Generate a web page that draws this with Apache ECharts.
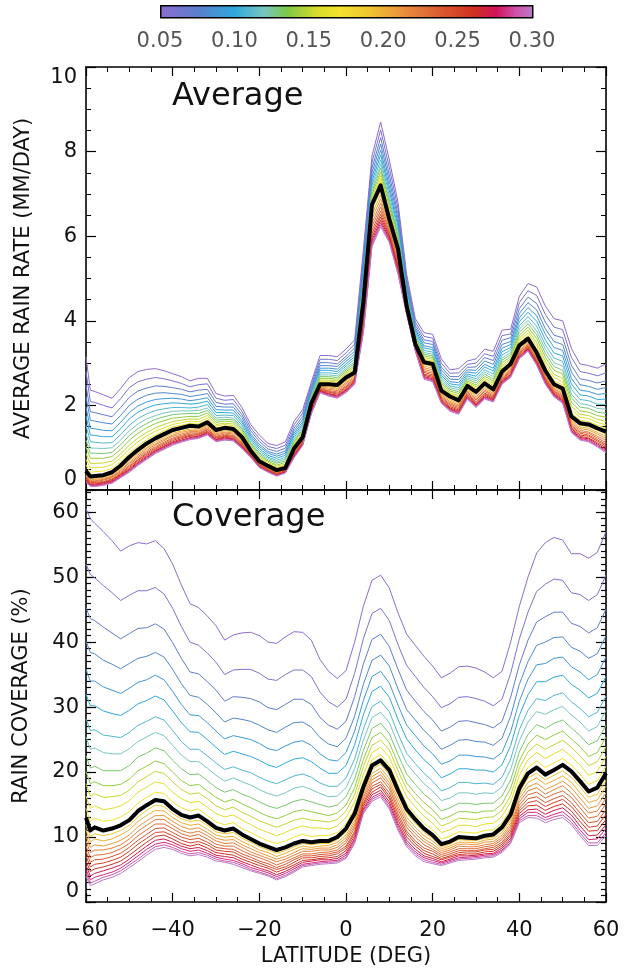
<!DOCTYPE html>
<html>
<head>
<meta charset="utf-8">
<script src="https://cdn.jsdelivr.net/npm/echarts@6/dist/echarts.min.js"></script>
<style>
html,body{margin:0;padding:0;background:#fff;}
#chart{width:628px;height:972px;}
</style>
</head>
<body>
<div id="chart"></div>
<script>
// rain-rate thresholds of the curves; the one drawn in black is 0.18
var thresholds = [0.05,0.06,0.07,0.08,0.09,0.10,0.11,0.12,0.13,0.14,0.15,0.16,0.17,0.18,0.19,0.20,0.21,0.22,0.23,0.24,0.25,0.26,0.27,0.28,0.29,0.30];
var blackIndex = 13;
var colorbarTicks = [0.05,0.10,0.15,0.20,0.25,0.30];

// average rain rate (mm/day): [latitude, value for each threshold]
var avgRows = [
[-60, 3.15,2.80,2.48,2.21,1.96,1.75,1.53,1.34,1.18,1.02,0.86,0.72,0.59,0.45, 0.42,0.39,0.36,0.33,0.31,0.29,0.26,0.24,0.22,0.21,0.19,0.18],
[-59, 2.36,2.09,1.85,1.65,1.46,1.30,1.14,0.99,0.87,0.75,0.63,0.52,0.42,0.32, 0.29,0.27,0.24,0.22,0.20,0.18,0.16,0.14,0.13,0.11,0.10,0.09],
[-58, 2.33,2.07,1.83,1.63,1.45,1.29,1.13,0.99,0.87,0.75,0.63,0.53,0.43,0.33, 0.30,0.27,0.25,0.22,0.20,0.18,0.16,0.14,0.12,0.11,0.09,0.08],
[-56, 2.25,2.00,1.78,1.59,1.41,1.26,1.11,0.98,0.86,0.75,0.64,0.54,0.45,0.35, 0.32,0.30,0.27,0.25,0.23,0.20,0.18,0.17,0.15,0.13,0.12,0.11],
[-54, 2.17,1.94,1.73,1.56,1.40,1.26,1.12,1.00,0.89,0.79,0.68,0.60,0.51,0.42, 0.39,0.36,0.33,0.31,0.29,0.26,0.24,0.22,0.20,0.19,0.17,0.16],
[-52, 2.40,2.16,1.95,1.76,1.60,1.45,1.31,1.18,1.07,0.96,0.85,0.76,0.67,0.58, 0.55,0.51,0.48,0.46,0.43,0.40,0.38,0.36,0.34,0.32,0.30,0.29],
[-50, 2.66,2.42,2.19,2.00,1.83,1.68,1.53,1.40,1.29,1.18,1.06,0.97,0.87,0.78, 0.74,0.70,0.66,0.63,0.59,0.56,0.53,0.50,0.48,0.46,0.44,0.42],
[-48, 2.80,2.56,2.34,2.15,1.99,1.84,1.69,1.56,1.45,1.34,1.23,1.14,1.04,0.95, 0.91,0.87,0.83,0.79,0.76,0.72,0.70,0.67,0.64,0.62,0.60,0.58],
[-46, 2.85,2.62,2.41,2.24,2.08,1.94,1.80,1.68,1.57,1.47,1.36,1.28,1.19,1.10, 1.05,1.01,0.98,0.94,0.90,0.87,0.84,0.81,0.78,0.76,0.74,0.72],
[-44, 2.87,2.66,2.46,2.29,2.14,2.01,1.88,1.76,1.67,1.57,1.47,1.39,1.30,1.22, 1.18,1.14,1.10,1.07,1.03,1.00,0.97,0.94,0.92,0.90,0.88,0.86],
[-42, 2.82,2.63,2.45,2.30,2.16,2.04,1.92,1.82,1.73,1.64,1.55,1.47,1.40,1.32, 1.28,1.24,1.20,1.17,1.13,1.10,1.07,1.04,1.02,1.00,0.98,0.96],
[-40, 2.75,2.58,2.42,2.28,2.17,2.06,1.95,1.86,1.78,1.70,1.62,1.55,1.49,1.42, 1.38,1.34,1.30,1.27,1.23,1.20,1.17,1.14,1.12,1.10,1.08,1.06],
[-38, 2.68,2.52,2.38,2.26,2.15,2.05,1.95,1.87,1.80,1.72,1.65,1.59,1.53,1.47, 1.43,1.39,1.36,1.32,1.29,1.26,1.24,1.21,1.18,1.16,1.15,1.13],
[-36, 2.58,2.44,2.32,2.21,2.11,2.03,1.94,1.87,1.81,1.74,1.68,1.63,1.57,1.52, 1.48,1.44,1.41,1.38,1.35,1.32,1.29,1.27,1.24,1.22,1.21,1.19],
[-34, 2.64,2.49,2.36,2.24,2.14,2.05,1.96,1.88,1.81,1.74,1.67,1.61,1.56,1.50, 1.47,1.44,1.41,1.38,1.35,1.33,1.31,1.28,1.27,1.25,1.23,1.22],
[-32, 2.64,2.51,2.38,2.28,2.18,2.10,2.02,1.94,1.88,1.82,1.76,1.70,1.65,1.60, 1.56,1.53,1.50,1.47,1.44,1.42,1.39,1.37,1.35,1.33,1.32,1.30],
[-30, 2.28,2.17,2.07,1.98,1.90,1.83,1.76,1.70,1.65,1.60,1.55,1.51,1.46,1.42, 1.39,1.36,1.33,1.30,1.27,1.25,1.23,1.20,1.19,1.17,1.15,1.14],
[-28, 2.22,2.12,2.03,1.96,1.89,1.83,1.77,1.72,1.67,1.63,1.58,1.55,1.51,1.47, 1.44,1.40,1.37,1.35,1.32,1.29,1.27,1.25,1.23,1.21,1.19,1.18],
[-26, 2.24,2.14,2.04,1.96,1.89,1.82,1.76,1.70,1.66,1.61,1.56,1.52,1.48,1.44, 1.41,1.38,1.35,1.32,1.29,1.27,1.25,1.22,1.21,1.19,1.17,1.16],
[-24, 1.95,1.86,1.78,1.71,1.64,1.59,1.53,1.48,1.44,1.40,1.36,1.32,1.29,1.25, 1.22,1.19,1.16,1.13,1.11,1.09,1.06,1.04,1.02,1.01,0.99,0.98],
[-22, 1.55,1.47,1.40,1.33,1.28,1.23,1.18,1.13,1.10,1.06,1.02,0.99,0.96,0.93, 0.91,0.89,0.88,0.86,0.85,0.83,0.82,0.81,0.80,0.79,0.78,0.77],
[-20, 1.30,1.22,1.15,1.08,1.03,0.98,0.93,0.88,0.85,0.81,0.77,0.74,0.71,0.68, 0.66,0.65,0.63,0.62,0.60,0.59,0.58,0.56,0.55,0.55,0.54,0.53],
[-18, 1.10,1.03,0.97,0.91,0.87,0.82,0.78,0.75,0.71,0.68,0.65,0.62,0.60,0.57, 0.55,0.54,0.52,0.51,0.49,0.48,0.47,0.45,0.44,0.44,0.43,0.42],
[-16, 1.05,0.98,0.91,0.85,0.80,0.75,0.70,0.66,0.63,0.59,0.56,0.53,0.50,0.47, 0.45,0.44,0.42,0.41,0.40,0.39,0.37,0.36,0.35,0.34,0.34,0.33],
[-14, 1.14,1.06,0.99,0.92,0.87,0.82,0.77,0.73,0.69,0.65,0.61,0.58,0.55,0.52, 0.51,0.49,0.48,0.47,0.46,0.45,0.44,0.43,0.42,0.41,0.41,0.40],
[-12, 1.62,1.54,1.46,1.40,1.34,1.29,1.24,1.19,1.15,1.11,1.08,1.04,1.01,0.98, 0.95,0.93,0.91,0.89,0.87,0.85,0.83,0.81,0.80,0.78,0.77,0.76],
[-10, 1.90,1.82,1.74,1.67,1.61,1.56,1.51,1.46,1.43,1.39,1.35,1.32,1.28,1.25, 1.23,1.20,1.18,1.16,1.15,1.13,1.11,1.10,1.08,1.07,1.06,1.05],
[-8, 2.55,2.49,2.43,2.38,2.33,2.29,2.25,2.22,2.19,2.16,2.13,2.10,2.08,2.05, 2.02,1.99,1.97,1.94,1.92,1.90,1.88,1.86,1.84,1.83,1.81,1.80],
[-6, 3.18,3.09,3.01,2.94,2.88,2.83,2.77,2.72,2.68,2.64,2.60,2.57,2.53,2.50, 2.48,2.45,2.43,2.41,2.40,2.38,2.36,2.35,2.33,2.32,2.31,2.30],
[-4, 3.18,3.09,3.01,2.94,2.88,2.83,2.77,2.72,2.68,2.64,2.60,2.57,2.53,2.50, 2.47,2.44,2.41,2.38,2.35,2.33,2.31,2.28,2.27,2.25,2.23,2.22],
[-2, 3.15,3.06,2.98,2.92,2.86,2.80,2.75,2.70,2.66,2.62,2.58,2.55,2.51,2.48, 2.44,2.41,2.38,2.35,2.32,2.29,2.27,2.24,2.22,2.20,2.19,2.17],
[0, 3.33,3.24,3.16,3.10,3.04,2.98,2.93,2.88,2.84,2.80,2.76,2.73,2.69,2.66, 2.62,2.58,2.54,2.51,2.47,2.44,2.41,2.38,2.36,2.34,2.32,2.30],
[2, 3.55,3.45,3.36,3.28,3.21,3.15,3.09,3.03,2.99,2.94,2.90,2.86,2.82,2.78, 2.75,2.72,2.69,2.66,2.63,2.61,2.59,2.56,2.55,2.53,2.51,2.50],
[4, 5.67,5.51,5.37,5.24,5.13,5.04,4.94,4.85,4.78,4.71,4.63,4.57,4.51,4.45, 4.36,4.28,4.20,4.13,4.06,3.99,3.93,3.87,3.82,3.78,3.74,3.70],
[6, 7.90,7.75,7.61,7.50,7.39,7.30,7.21,7.13,7.06,6.99,6.92,6.87,6.81,6.75, 6.63,6.52,6.42,6.32,6.23,6.14,6.06,5.98,5.91,5.85,5.80,5.75],
[8, 8.70,8.51,8.33,8.18,8.04,7.92,7.80,7.70,7.61,7.52,7.43,7.35,7.28,7.20, 7.08,6.98,6.88,6.78,6.69,6.60,6.52,6.45,6.38,6.32,6.27,6.22],
[10, 7.80,7.62,7.45,7.31,7.18,7.07,6.96,6.86,6.78,6.69,6.61,6.54,6.47,6.40, 6.33,6.27,6.22,6.16,6.11,6.06,6.02,5.98,5.94,5.91,5.88,5.85],
[12, 6.80,6.66,6.53,6.42,6.32,6.23,6.14,6.06,6.00,5.93,5.87,5.81,5.76,5.70, 5.63,5.56,5.50,5.44,5.39,5.33,5.29,5.24,5.20,5.16,5.13,5.10],
[14, 5.10,5.00,4.91,4.84,4.77,4.71,4.65,4.60,4.55,4.51,4.46,4.43,4.39,4.35, 4.33,4.30,4.28,4.26,4.25,4.23,4.21,4.20,4.18,4.17,4.16,4.15],
[16, 4.05,3.97,3.90,3.84,3.79,3.74,3.69,3.65,3.61,3.58,3.54,3.51,3.48,3.45, 3.43,3.41,3.39,3.38,3.36,3.35,3.33,3.32,3.31,3.30,3.29,3.28],
[18, 3.72,3.63,3.55,3.48,3.41,3.36,3.30,3.25,3.21,3.17,3.13,3.09,3.06,3.02, 2.97,2.93,2.89,2.85,2.81,2.78,2.74,2.71,2.68,2.66,2.64,2.62],
[20, 3.68,3.59,3.51,3.44,3.37,3.32,3.26,3.21,3.17,3.13,3.09,3.05,3.02,2.98, 2.93,2.88,2.84,2.80,2.76,2.72,2.69,2.66,2.63,2.60,2.58,2.56],
[22, 3.10,3.00,2.91,2.84,2.77,2.71,2.65,2.60,2.55,2.51,2.46,2.43,2.39,2.35, 2.31,2.28,2.25,2.22,2.19,2.17,2.14,2.12,2.10,2.08,2.07,2.05],
[24, 2.84,2.76,2.68,2.62,2.56,2.51,2.46,2.42,2.38,2.34,2.30,2.27,2.24,2.21, 2.17,2.13,2.09,2.06,2.03,2.00,1.97,1.94,1.92,1.90,1.88,1.86],
[26, 2.87,2.77,2.68,2.61,2.54,2.48,2.42,2.37,2.32,2.28,2.23,2.20,2.16,2.12, 2.08,2.04,2.01,1.98,1.95,1.92,1.89,1.87,1.84,1.82,1.81,1.79],
[28, 3.05,2.97,2.90,2.84,2.79,2.74,2.70,2.66,2.62,2.58,2.55,2.52,2.49,2.46, 2.42,2.39,2.36,2.33,2.30,2.27,2.25,2.22,2.20,2.18,2.17,2.15],
[30, 3.10,3.00,2.91,2.83,2.76,2.69,2.63,2.58,2.53,2.48,2.44,2.40,2.36,2.32, 2.28,2.24,2.20,2.16,2.13,2.09,2.07,2.04,2.01,1.99,1.97,1.95],
[32, 3.33,3.22,3.13,3.05,2.97,2.91,2.84,2.79,2.74,2.69,2.64,2.60,2.56,2.52, 2.48,2.44,2.40,2.36,2.33,2.29,2.27,2.24,2.21,2.19,2.17,2.15],
[34, 3.28,3.16,3.06,2.97,2.88,2.81,2.74,2.68,2.62,2.57,2.52,2.47,2.43,2.38, 2.34,2.31,2.28,2.25,2.22,2.20,2.17,2.15,2.13,2.11,2.10,2.08],
[36, 3.78,3.65,3.54,3.44,3.35,3.27,3.19,3.12,3.07,3.01,2.95,2.90,2.85,2.80, 2.76,2.73,2.70,2.67,2.64,2.62,2.59,2.57,2.55,2.53,2.52,2.50],
[38, 3.80,3.69,3.60,3.51,3.44,3.37,3.31,3.25,3.20,3.15,3.10,3.06,3.02,2.98, 2.94,2.91,2.87,2.84,2.81,2.79,2.76,2.73,2.71,2.69,2.68,2.66],
[40, 4.58,4.43,4.29,4.17,4.07,3.98,3.88,3.80,3.73,3.66,3.59,3.54,3.48,3.42, 3.38,3.35,3.31,3.28,3.25,3.23,3.20,3.17,3.15,3.13,3.12,3.10],
[42, 4.88,4.71,4.56,4.43,4.31,4.20,4.10,4.01,3.93,3.85,3.78,3.71,3.65,3.58, 3.54,3.51,3.48,3.45,3.42,3.40,3.37,3.35,3.33,3.31,3.30,3.28],
[44, 4.80,4.60,4.41,4.26,4.12,3.99,3.87,3.76,3.67,3.58,3.48,3.41,3.33,3.25, 3.21,3.18,3.15,3.12,3.09,3.07,3.04,3.02,3.00,2.98,2.97,2.95],
[46, 4.35,4.15,3.97,3.81,3.68,3.55,3.43,3.33,3.23,3.14,3.05,2.97,2.90,2.82, 2.78,2.75,2.71,2.68,2.65,2.63,2.60,2.57,2.55,2.53,2.52,2.50],
[48, 4.05,3.85,3.66,3.51,3.37,3.24,3.12,3.01,2.92,2.83,2.73,2.66,2.58,2.50, 2.46,2.43,2.40,2.37,2.34,2.32,2.29,2.27,2.25,2.23,2.22,2.20],
[50, 4.00,3.79,3.60,3.44,3.30,3.17,3.04,2.93,2.83,2.74,2.64,2.56,2.48,2.40, 2.36,2.32,2.28,2.25,2.22,2.19,2.16,2.13,2.11,2.09,2.07,2.05],
[52, 3.35,3.14,2.95,2.79,2.64,2.51,2.38,2.27,2.18,2.08,1.98,1.90,1.82,1.74, 1.69,1.65,1.62,1.58,1.54,1.51,1.48,1.45,1.42,1.40,1.38,1.36],
[54, 2.98,2.80,2.63,2.49,2.36,2.25,2.14,2.04,1.96,1.87,1.79,1.72,1.65,1.58, 1.53,1.49,1.45,1.41,1.37,1.34,1.30,1.27,1.24,1.22,1.20,1.18],
[56, 2.94,2.76,2.59,2.45,2.33,2.22,2.11,2.01,1.93,1.84,1.76,1.69,1.62,1.55, 1.50,1.46,1.42,1.37,1.34,1.30,1.27,1.23,1.21,1.18,1.16,1.14],
[58, 2.88,2.70,2.53,2.38,2.26,2.14,2.03,1.93,1.84,1.76,1.67,1.60,1.53,1.46, 1.41,1.36,1.32,1.27,1.23,1.19,1.16,1.12,1.09,1.06,1.04,1.02],
[60, 2.98,2.77,2.58,2.42,2.28,2.15,2.02,1.91,1.81,1.72,1.62,1.54,1.46,1.38, 1.32,1.27,1.22,1.17,1.12,1.08,1.04,1.00,0.96,0.93,0.91,0.88]
];

// rain coverage (%): [latitude, value for each threshold]
var covRows = [
[-60, 60.5,52.0,45.3,40.1,35.8,32.0,28.2,25.4,22.5,20.1,18.2,16.3,14.4,13.0, 12.0,11.1,10.2,9.4,8.6,7.8,7.1,6.3,5.6,5.0,4.5,4.0],
[-59, 59.0,50.4,43.6,38.4,34.0,30.2,26.4,23.5,20.6,18.2,16.3,14.4,12.4,11.0, 10.1,9.2,8.4,7.6,6.8,6.1,5.4,4.7,4.0,3.4,2.9,2.5],
[-58, 58.3,49.9,43.3,38.2,34.0,30.2,26.5,23.7,20.9,18.5,16.7,14.8,12.9,11.5, 10.5,9.7,8.8,8.0,7.2,6.5,5.8,5.1,4.4,3.8,3.2,2.8],
[-56, 57.0,48.7,42.3,37.2,33.1,29.4,25.7,23.0,20.2,17.9,16.1,14.2,12.4,11.0, 10.2,9.4,8.6,8.0,7.3,6.6,6.0,5.4,4.8,4.2,3.8,3.4],
[-54, 55.6,47.6,41.4,36.6,32.6,29.0,25.5,22.8,20.2,17.9,16.2,14.4,12.6,11.3, 10.5,9.7,9.0,8.3,7.6,7.0,6.4,5.8,5.2,4.6,4.2,3.8],
[-52, 54.0,46.4,40.5,35.9,32.1,28.7,25.3,22.8,20.2,18.1,16.4,14.8,13.1,11.8, 11.0,10.3,9.5,8.8,8.2,7.5,6.9,6.3,5.7,5.2,4.8,4.4],
[-50, 54.8,47.2,41.3,36.7,32.9,29.5,26.1,23.6,21.0,18.9,17.2,15.6,13.9,12.6, 11.8,11.1,10.3,9.7,9.0,8.4,7.8,7.2,6.6,6.1,5.7,5.3],
[-48, 55.3,47.9,42.1,37.5,33.8,30.5,27.2,24.7,22.3,20.2,18.5,16.9,15.2,14.0, 13.1,12.4,11.6,10.9,10.2,9.5,8.9,8.2,7.6,7.1,6.6,6.2],
[-46, 55.1,47.9,42.2,37.8,34.2,31.0,27.8,25.4,22.9,20.9,19.3,17.7,16.1,14.9, 14.1,13.3,12.5,11.8,11.1,10.4,9.8,9.2,8.6,8.1,7.6,7.2],
[-44, 55.6,48.4,42.8,38.4,34.9,31.7,28.5,26.1,23.7,21.7,20.1,18.5,16.9,15.7, 14.9,14.1,13.3,12.7,12.0,11.3,10.7,10.1,9.5,8.9,8.5,8.1],
[-42, 54.4,47.4,42.0,37.7,34.2,31.1,28.0,25.6,23.3,21.3,19.8,18.2,16.7,15.5, 14.7,14.0,13.3,12.7,12.0,11.4,10.8,10.3,9.7,9.2,8.8,8.4],
[-40, 52.0,45.2,39.9,35.8,32.4,29.4,26.4,24.1,21.8,20.0,18.5,16.9,15.4,14.3, 13.6,13.0,12.4,11.8,11.3,10.7,10.2,9.7,9.2,8.8,8.4,8.1],
[-38, 48.8,42.4,37.5,33.6,30.4,27.6,24.7,22.6,20.5,18.7,17.3,15.9,14.5,13.4, 12.8,12.2,11.6,11.0,10.5,10.0,9.5,9.0,8.6,8.2,7.8,7.5],
[-36, 45.9,40.0,35.4,31.8,28.8,26.2,23.5,21.6,19.6,17.9,16.6,15.3,14.0,13.0, 12.4,11.8,11.2,10.6,10.1,9.6,9.1,8.6,8.2,7.8,7.4,7.1],
[-34, 45.3,39.5,35.1,31.5,28.7,26.1,23.5,21.6,19.7,18.1,16.8,15.5,14.3,13.3, 12.6,12.0,11.4,10.9,10.4,9.8,9.3,8.9,8.4,8.0,7.6,7.3],
[-32, 44.0,38.3,33.9,30.4,27.6,25.0,22.5,20.6,18.7,17.1,15.9,14.6,13.3,12.4, 11.8,11.2,10.7,10.2,9.7,9.2,8.8,8.3,7.9,7.5,7.2,6.9],
[-30, 42.5,36.9,32.6,29.1,26.3,23.8,21.4,19.5,17.6,16.1,14.8,13.6,12.3,11.4, 10.8,10.3,9.8,9.4,8.9,8.4,8.0,7.6,7.2,6.9,6.6,6.3],
[-28, 40.3,35.0,30.9,27.7,25.1,22.7,20.4,18.6,16.9,15.4,14.2,13.1,11.9,11.0, 10.5,10.0,9.5,9.0,8.6,8.2,7.8,7.4,7.0,6.6,6.3,6.1],
[-26, 41.1,35.7,31.6,28.3,25.6,23.2,20.8,19.1,17.3,15.8,14.6,13.4,12.2,11.3, 10.7,10.1,9.6,9.1,8.6,8.1,7.7,7.2,6.8,6.4,6.1,5.8],
[-24, 41.4,35.8,31.5,28.1,25.3,22.8,20.3,18.5,16.6,15.1,13.8,12.6,11.3,10.4, 9.8,9.3,8.8,8.4,7.9,7.4,7.0,6.6,6.2,5.9,5.6,5.3],
[-22, 41.5,35.8,31.3,27.8,25.0,22.4,19.9,18.0,16.1,14.5,13.2,11.9,10.7,9.7, 9.2,8.7,8.2,7.7,7.3,6.9,6.5,6.1,5.7,5.3,5.0,4.8],
[-20, 41.0,35.2,30.8,27.2,24.4,21.8,19.2,17.3,15.4,13.8,12.5,11.2,10.0,9.0, 8.5,8.0,7.6,7.2,6.8,6.3,6.0,5.6,5.2,4.9,4.6,4.4],
[-18, 40.0,34.3,29.9,26.5,23.6,21.1,18.6,16.7,14.8,13.2,12.0,10.7,9.4,8.5, 8.0,7.6,7.1,6.7,6.3,5.9,5.5,5.2,4.8,4.5,4.2,4.0],
[-16, 39.8,34.1,29.6,26.1,23.3,20.7,18.2,16.3,14.4,12.8,11.5,10.2,9.0,8.0, 7.5,7.0,6.6,6.2,5.7,5.3,5.0,4.6,4.2,3.9,3.6,3.4],
[-14, 40.8,35.0,30.4,26.9,24.0,21.4,18.8,16.8,14.9,13.3,12.0,10.7,9.4,8.4, 7.9,7.5,7.0,6.6,6.2,5.8,5.4,5.1,4.7,4.4,4.1,3.9],
[-12, 41.6,35.7,31.2,27.6,24.6,22.0,19.4,17.5,15.5,13.9,12.6,11.3,10.0,9.0, 8.5,8.1,7.6,7.2,6.8,6.5,6.1,5.7,5.4,5.1,4.8,4.6],
[-10, 41.5,35.7,31.2,27.7,24.8,22.2,19.7,17.8,15.8,14.2,12.9,11.7,10.4,9.4, 9.0,8.6,8.2,7.8,7.4,7.1,6.8,6.4,6.1,5.8,5.6,5.4],
[-8, 40.3,34.7,30.4,26.9,24.1,21.6,19.2,17.3,15.4,13.9,12.6,11.4,10.1,9.2, 8.8,8.4,8.1,7.8,7.4,7.1,6.8,6.5,6.3,6.0,5.8,5.6],
[-6, 37.3,32.3,28.4,25.3,22.8,20.6,18.3,16.7,15.0,13.6,12.5,11.4,10.2,9.4, 9.0,8.6,8.3,8.0,7.6,7.3,7.0,6.7,6.5,6.2,6.0,5.8],
[-4, 35.5,30.8,27.2,24.3,21.9,19.8,17.8,16.2,14.6,13.3,12.3,11.2,10.2,9.4, 9.0,8.7,8.3,8.0,7.7,7.4,7.1,6.8,6.5,6.3,6.1,5.9],
[-2, 34.4,30.0,26.6,23.9,21.7,19.8,17.8,16.3,14.9,13.7,12.7,11.7,10.7,10.0, 9.6,9.2,8.8,8.4,8.0,7.7,7.4,7.0,6.7,6.4,6.2,6.0],
[0, 35.6,31.2,27.8,25.2,23.0,21.0,19.1,17.6,16.2,14.9,14.0,13.0,12.0,11.3, 10.8,10.3,9.9,9.5,9.1,8.6,8.3,7.9,7.5,7.2,6.9,6.7],
[2, 40.0,35.2,31.6,28.6,26.3,24.2,22.0,20.5,18.9,17.6,16.5,15.4,14.4,13.6, 13.1,12.6,12.2,11.8,11.4,10.9,10.6,10.2,9.8,9.5,9.2,9.0],
[4, 45.5,40.5,36.6,33.5,31.0,28.8,26.6,24.9,23.3,21.9,20.8,19.6,18.5,17.7, 17.3,16.8,16.4,16.1,15.7,15.3,15.0,14.7,14.3,14.1,13.8,13.6],
[6, 49.5,44.4,40.4,37.2,34.7,32.4,30.1,28.4,26.7,25.3,24.1,23.0,21.9,21.0, 20.4,19.8,19.3,18.8,18.3,17.8,17.4,16.9,16.5,16.1,15.8,15.5],
[8, 50.3,45.2,41.2,38.0,35.5,33.2,30.9,29.2,27.5,26.1,24.9,23.8,22.7,21.8, 21.2,20.6,20.1,19.6,19.1,18.5,18.1,17.7,17.2,16.8,16.5,16.2],
[10, 48.3,43.3,39.3,36.3,33.7,31.5,29.3,27.6,25.9,24.5,23.4,22.3,21.1,20.3, 19.6,19.0,18.4,17.9,17.4,16.8,16.3,15.9,15.4,15.0,14.6,14.3],
[12, 44.5,39.6,35.8,32.8,30.3,28.1,25.9,24.3,22.7,21.3,20.2,19.1,18.0,17.2, 16.5,15.9,15.3,14.7,14.2,13.6,13.1,12.6,12.1,11.7,11.3,11.0],
[14, 41.2,36.4,32.6,29.6,27.2,25.1,22.9,21.3,19.7,18.3,17.3,16.2,15.1,14.3, 13.7,13.1,12.5,12.0,11.5,10.9,10.5,10.0,9.5,9.1,8.8,8.5],
[16, 39.5,34.7,30.9,28.0,25.6,23.4,21.3,19.7,18.1,16.7,15.7,14.6,13.5,12.7, 12.1,11.5,11.0,10.5,10.0,9.4,9.0,8.6,8.1,7.7,7.4,7.1],
[18, 37.8,33.0,29.3,26.4,24.0,21.9,19.8,18.2,16.6,15.3,14.2,13.2,12.1,11.3, 10.7,10.2,9.7,9.3,8.8,8.3,7.9,7.5,7.1,6.8,6.5,6.2],
[20, 36.3,31.6,28.0,25.1,22.8,20.7,18.6,17.1,15.5,14.2,13.2,12.1,11.1,10.3, 9.8,9.4,8.9,8.5,8.1,7.8,7.4,7.0,6.7,6.4,6.1,5.9],
[22, 34.5,29.9,26.3,23.5,21.2,19.1,17.1,15.6,14.0,12.7,11.7,10.7,9.7,8.9, 8.5,8.2,7.9,7.6,7.3,7.0,6.7,6.5,6.2,6.0,5.8,5.6],
[24, 35.2,30.5,26.9,24.1,21.7,19.7,17.6,16.0,14.5,13.2,12.2,11.1,10.1,9.3, 8.9,8.6,8.3,8.0,7.7,7.4,7.1,6.9,6.6,6.4,6.2,6.0],
[26, 36.2,31.5,27.8,24.9,22.6,20.5,18.4,16.8,15.2,13.9,12.9,11.8,10.8,10.0, 9.6,9.2,8.9,8.6,8.2,7.9,7.6,7.3,7.1,6.8,6.6,6.4],
[28, 36.3,31.6,27.9,25.0,22.6,20.5,18.4,16.8,15.2,13.9,12.8,11.8,10.7,9.9, 9.5,9.2,8.9,8.5,8.2,7.9,7.7,7.4,7.1,6.9,6.7,6.5],
[30, 36.0,31.3,27.6,24.7,22.4,20.3,18.2,16.6,15.0,13.7,12.7,11.6,10.6,9.8, 9.5,9.1,8.8,8.5,8.2,7.9,7.7,7.4,7.2,7.0,6.8,6.6],
[32, 35.4,30.9,27.3,24.6,22.3,20.3,18.3,16.8,15.2,14.0,13.0,12.0,11.0,10.2, 9.8,9.5,9.2,8.8,8.5,8.2,8.0,7.7,7.4,7.2,7.0,6.8],
[34, 34.5,30.2,26.8,24.1,22.0,20.0,18.1,16.7,15.2,14.0,13.1,12.1,11.1,10.4, 10.0,9.7,9.3,9.0,8.7,8.4,8.1,7.8,7.5,7.3,7.1,6.9],
[36, 35.5,31.2,27.8,25.2,23.0,21.1,19.2,17.7,16.3,15.1,14.1,13.2,12.2,11.5, 11.1,10.7,10.3,9.9,9.6,9.2,8.9,8.6,8.3,8.0,7.8,7.6],
[38, 40.0,35.2,31.5,28.6,26.2,24.1,22.0,20.4,18.8,17.5,16.4,15.4,14.3,13.5, 13.0,12.6,12.1,11.7,11.3,10.9,10.5,10.2,9.8,9.5,9.2,9.0],
[40, 45.5,40.5,36.5,33.5,30.9,28.7,26.5,24.8,23.1,21.7,20.6,19.5,18.3,17.5, 16.9,16.4,15.9,15.4,14.9,14.4,14.0,13.6,13.2,12.8,12.5,12.2],
[42, 50.0,44.6,40.3,37.0,34.3,31.9,29.5,27.7,25.8,24.3,23.1,21.9,20.7,19.8, 19.1,18.4,17.7,17.1,16.5,15.9,15.3,14.8,14.2,13.8,13.3,13.0],
[44, 53.7,47.8,43.1,39.5,36.5,33.9,31.3,29.3,27.3,25.7,24.3,23.0,21.7,20.7, 19.8,19.1,18.3,17.6,16.9,16.2,15.6,14.9,14.3,13.8,13.3,12.9],
[46, 55.3,48.9,43.9,40.0,36.7,33.9,31.0,28.9,26.7,25.0,23.5,22.1,20.7,19.6, 18.8,18.1,17.3,16.6,16.0,15.3,14.7,14.1,13.5,13.0,12.6,12.2],
[48, 56.1,49.7,44.6,40.7,37.5,34.6,31.8,29.6,27.5,25.7,24.2,22.8,21.4,20.3, 19.5,18.7,17.9,17.3,16.6,15.9,15.3,14.7,14.1,13.5,13.1,12.7],
[50, 55.7,49.5,44.6,40.8,37.7,34.9,32.2,30.1,28.0,26.3,24.9,23.5,22.1,21.1, 20.2,19.4,18.6,17.9,17.1,16.4,15.8,15.1,14.5,13.9,13.4,13.0],
[52, 53.6,47.6,42.9,39.2,36.2,33.5,30.8,28.8,26.8,25.1,23.8,22.4,21.1,20.1, 19.2,18.4,17.6,16.8,16.1,15.3,14.7,14.0,13.4,12.8,12.3,11.9],
[54, 53.6,47.3,42.4,38.6,35.4,32.6,29.8,27.7,25.6,23.9,22.5,21.1,19.7,18.6, 17.7,16.8,16.0,15.2,14.5,13.7,13.1,12.4,11.7,11.1,10.6,10.2],
[56, 52.9,46.4,41.4,37.5,34.2,31.4,28.5,26.3,24.2,22.4,21.0,19.5,18.1,17.0, 16.1,15.3,14.4,13.7,12.9,12.2,11.5,10.9,10.2,9.6,9.1,8.7],
[58, 53.8,47.3,42.2,38.2,35.0,32.1,29.2,27.0,24.8,23.0,21.6,20.1,18.7,17.6, 16.6,15.7,14.8,14.0,13.2,12.4,11.7,11.0,10.3,9.7,9.1,8.7],
[60, 57.0,50.3,45.1,41.0,37.7,34.7,31.7,29.5,27.2,25.4,23.9,22.4,20.9,19.8, 18.7,17.8,16.8,16.0,15.1,14.2,13.5,12.7,11.9,11.3,10.7,10.2]
];

// colour table of the threshold colour bar (fraction along the bar, colour)
var cmapStops = [[0,'#8e6ccf'],[0.10,'#5a7fcc'],[0.20,'#2fa8dc'],[0.28,'#78c6c0'],[0.34,'#7cc846'],[0.42,'#d8dc2c'],[0.48,'#f3e22c'],[0.56,'#f0c530'],[0.66,'#e88a3c'],[0.76,'#d85530'],[0.84,'#cf3120'],[0.90,'#d0125a'],[0.95,'#cf4ea6'],[1,'#b97bc9']];

var FONT = 'DejaVu Sans';

function hexRgb(h){ return [parseInt(h.substr(1,2),16),parseInt(h.substr(3,2),16),parseInt(h.substr(5,2),16)]; }
function lineColor(t){
	var f = (t-0.05)/0.25;
	for (var i=1;i<cmapStops.length;i++){
		if (f <= cmapStops[i][0]+1e-9){
			var a=cmapStops[i-1], b=cmapStops[i];
			var u=(f-a[0])/(b[0]-a[0]), ca=hexRgb(a[1]), cb=hexRgb(b[1]);
			return 'rgb('+Math.round(ca[0]+(cb[0]-ca[0])*u)+','+Math.round(ca[1]+(cb[1]-ca[1])*u)+','+Math.round(ca[2]+(cb[2]-ca[2])*u)+')';
		}
	}
	return cmapStops[cmapStops.length-1][1];
}

function buildSeries(rows, xi, yi){
	var out = [], blk = null;
	thresholds.forEach(function(t,k){
		var s = {
			type:'line', xAxisIndex:xi, yAxisIndex:yi, symbol:'none', silent:true, animation:false,
			data: rows.map(function(r){ return [r[0], r[k+1]]; }),
			lineStyle:{width:1, color:lineColor(t)}, z:2
		};
		if (k === blackIndex){ s.lineStyle = {width:4, color:'#000', join:'round'}; s.z = 5; blk = s; }
		else out.push(s);
	});
	out.push(blk);
	return out;
}

// axis pieces
function tick(len){ return {show:true, inside:true, length:len, lineStyle:{color:'#000', width:1.2}}; }
function minor(n){ return {show:true, splitNumber:n, length:5, lineStyle:{color:'#000', width:1}}; }
var line = {show:true, onZero:false, lineStyle:{color:'#000', width:1.6}};
var noLine = {show:false, onZero:false};
var noLabel = {show:false};
var noSplit = {show:false};
function latLabel(v){ return v<0 ? '\u2212'+(-v) : String(v); }

function latAxis(grid, pos, withLabels){
	var a = {type:'value', gridIndex:grid, position:pos, min:-60, max:60, interval:20,
		axisLine:line, axisTick:tick(9), minorTick:minor(4), splitLine:noSplit, axisLabel:noLabel};
	if (withLabels){
		a.axisLabel = {show:true, margin:18, fontFamily:FONT, fontSize:21, color:'#111', formatter:latLabel};
		a.name = 'LATITUDE (DEG)'; a.nameLocation = 'middle'; a.nameGap = 44;
		a.nameTextStyle = {fontFamily:FONT, fontSize:21, color:'#111'};
	}
	return a;
}

var chart = echarts.init(document.getElementById('chart'), null, {renderer:'canvas'});
var series = buildSeries(avgRows, 0, 0).concat(buildSeries(covRows, 2, 2));

var covMax = 63.4;
var option = {
	animation:false,
	backgroundColor:'#fff',
	textStyle:{fontFamily:FONT},
	grid:[
		{left:86, top:67, width:520, height:423, outerBoundsMode:'none'},
		{left:86, top:490, width:520, height:412, outerBoundsMode:'none'},
		{left:160, top:5, width:372, height:12, outerBoundsMode:'none'}
	],
	xAxis:[
		latAxis(0,'bottom',false),
		latAxis(0,'top',false),
		latAxis(1,'bottom',true),
		latAxis(1,'top',false),
		{type:'value', gridIndex:2, position:'bottom', min:0.05, max:0.30, interval:0.05,
			axisLine:noLine, axisTick:{show:false}, splitLine:noSplit,
			axisLabel:{show:true, margin:14, fontFamily:FONT, fontSize:21, color:'#555',
				formatter:function(v){ return v.toFixed(2); }}}
	],
	yAxis:[
		{type:'value', gridIndex:0, position:'left', min:0, max:10, interval:2,
			axisLine:line, axisTick:tick(10), minorTick:minor(4), splitLine:noSplit,
			axisLabel:{show:true, margin:9, fontFamily:FONT, fontSize:21, color:'#111',
				verticalAlignMaxLabel:'top', verticalAlignMinLabel:'bottom'},
			name:'AVERAGE RAIN RATE (MM/DAY)', nameLocation:'middle', nameGap:52,
			nameTextStyle:{fontFamily:FONT, fontSize:21, color:'#111'}},
		{type:'value', gridIndex:0, position:'right', min:0, max:10, interval:2,
			axisLine:line, axisTick:tick(10), minorTick:minor(4), splitLine:noSplit, axisLabel:noLabel},
		{type:'value', gridIndex:1, position:'left', min:0, max:covMax, interval:10,
			axisLine:line, axisTick:tick(10), splitLine:noSplit,
			axisLabel:{show:true, margin:7, fontFamily:FONT, fontSize:21, color:'#111', showMaxLabel:false,
				verticalAlignMinLabel:'bottom',
				formatter:function(v){ return (Math.abs(v%10)<1e-6) ? String(v) : ''; }},
			name:'RAIN COVERAGE (%)', nameLocation:'middle', nameGap:54,
			nameTextStyle:{fontFamily:FONT, fontSize:21, color:'#111'}},
		{type:'value', gridIndex:1, position:'left', min:0, max:covMax, interval:1,
			axisLine:noLine, axisTick:tick(5), splitLine:noSplit, axisLabel:noLabel},
		{type:'value', gridIndex:1, position:'right', min:0, max:covMax, interval:10,
			axisLine:line, axisTick:tick(10), splitLine:noSplit, axisLabel:noLabel},
		{type:'value', gridIndex:1, position:'right', min:0, max:covMax, interval:1,
			axisLine:noLine, axisTick:tick(5), splitLine:noSplit, axisLabel:noLabel},
		{type:'value', gridIndex:2, min:0, max:1, show:false}
	],
	graphic:[
		{type:'rect', left:160, top:5, z:10,
			shape:{width:372, height:12},
			style:{fill:new echarts.graphic.LinearGradient(0,0,1,0, cmapStops.map(function(s){ return {offset:s[0], color:s[1]}; })),
				stroke:'#000', lineWidth:1.5}},
		{type:'text', left:172, top:81, z:10,
			style:{text:'Average', font:'32px "'+FONT+'"', fill:'#111'}},
		{type:'text', left:172, top:502, z:10,
			style:{text:'Coverage', font:'32px "'+FONT+'"', fill:'#111'}}
	],
	series:series
};
chart.setOption(option);
</script>
</body>
</html>
